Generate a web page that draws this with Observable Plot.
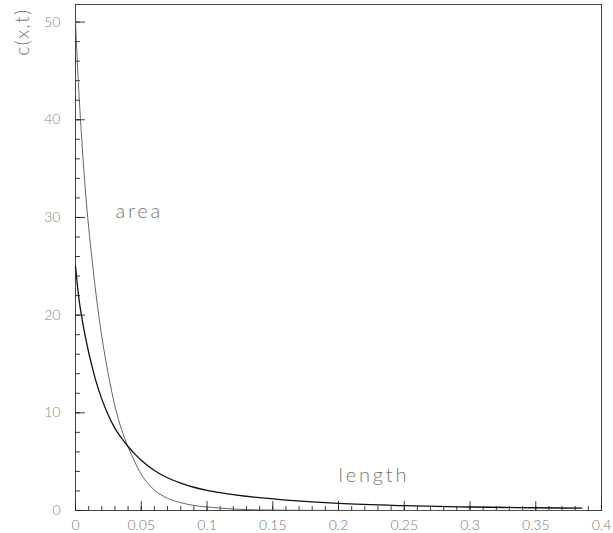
<!DOCTYPE html>
<html>
<head>
<meta charset="utf-8">
<script src="https://cdn.jsdelivr.net/npm/d3@7"></script>
<script src="https://cdn.jsdelivr.net/npm/@observablehq/plot@0.6"></script>
<style>
  html, body { margin: 0; padding: 0; background: #fff; }
  #chart svg { display: block; }
</style>
</head>
<body>
<div id="chart"></div>
<script>
// ---- data ----
const xs         = [0, 0.0025, 0.005, 0.0075, 0.01, 0.0125, 0.015, 0.02, 0.025, 0.03, 0.035, 0.04, 0.045, 0.05, 0.06, 0.07, 0.08, 0.09, 0.1, 0.11, 0.12, 0.14, 0.16, 0.18, 0.2, 0.25, 0.3, 0.35, 0.385];
const areaVals   = [50, 43, 37.5, 32.8, 29, 25.8, 22.8, 17.8, 13.9, 10.7, 8.3, 6.5, 5.0, 3.7, 2.1, 1.25, 0.8, 0.52, 0.36, 0.24, 0.15, 0.06, 0.03, 0.01, 0.01, 0, 0, 0, 0];
const lengthVals = [25, 21.8, 19.6, 17.8, 16.2, 14.8, 13.5, 11.4, 9.75, 8.4, 7.4, 6.55, 5.8, 5.15, 4.1, 3.35, 2.8, 2.38, 2.07, 1.83, 1.63, 1.31, 1.07, 0.88, 0.72, 0.49, 0.36, 0.28, 0.24];

const xTickLabels  = [0, 0.05, 0.1, 0.15, 0.2, 0.25, 0.3, 0.35, 0.4];
const xMinorTicks  = d3.range(1, 40).map(i => +(i * 0.01).toFixed(2));
const yTickLabels  = [0, 10, 20, 30, 40, 50];
const yMinorTicks  = d3.range(2, 52, 2);
const yLabel = "c(x,t)";
const seriesLabels = [
  {name: "area",   x: 0.0304, y: 30.6},
  {name: "length", x: 0.2,    y: 3.6}
];

const areaData   = xs.map((x, i) => ({x, y: areaVals[i]}));
const lengthData = xs.map((x, i) => ({x, y: lengthVals[i]}));

const tickShape = {draw(context, l) { context.moveTo(0, 0); context.lineTo(0, -l); }};
const font = "Lato, 'DejaVu Sans', sans-serif";

const chart = Plot.plot({
  width: 613,
  height: 533,
  marginLeft: 75,
  marginRight: 12,
  marginTop: 4,
  marginBottom: 23,
  style: {fontFamily: font, fontWeight: 300, background: "#fff"},
  x: {domain: [0, 0.4]},
  y: {domain: [0, 51.8]},
  marks: [
    Plot.frame({stroke: "#444", strokeWidth: 1}),
    // inward ticks
    Plot.vector(xMinorTicks, {x: d => d, y: 0, length: 4, rotate: 0, anchor: "start", shape: tickShape, stroke: "#222", strokeWidth: 0.9}),
    Plot.vector(xTickLabels, {x: d => d, y: 0, length: 9, rotate: 0, anchor: "start", shape: tickShape, stroke: "#222", strokeWidth: 0.9}),
    Plot.vector(yMinorTicks, {x: 0, y: d => d, length: 4, rotate: 90, anchor: "start", shape: tickShape, stroke: "#222", strokeWidth: 0.9}),
    Plot.vector(yTickLabels, {x: 0, y: d => d, length: 9, rotate: 90, anchor: "start", shape: tickShape, stroke: "#222", strokeWidth: 0.9}),
    Plot.axisX({ticks: xTickLabels, tickSize: 0, tickPadding: 10, tickFormat: d => String(d), label: null, fontSize: 14, fill: "#777"}),
    Plot.axisY({ticks: yTickLabels, tickSize: 0, tickPadding: 15, tickFormat: d => String(d), label: null, fontSize: 14, fill: "#888"}),
    Plot.line(areaData,   {x: "x", y: "y", stroke: "#555", strokeWidth: 0.9, curve: "monotone-x"}),
    Plot.line(lengthData, {x: "x", y: "y", stroke: "#111", strokeWidth: 1.3, curve: "monotone-x"}),
    Plot.text(seriesLabels, {x: "x", y: "y", text: "name", textAnchor: "start", fontSize: 20, fill: "#777"}),
    Plot.text([yLabel], {frameAnchor: "top-left", textAnchor: "middle", lineAnchor: "middle", dx: -52.5, dy: 27.5, rotate: -90, fontSize: 19, fill: "#777"})
  ]
});
const labelNames = new Set(seriesLabels.map(d => d.name));
d3.select(chart).selectAll("text")
  .filter(function() { return labelNames.has(this.textContent); })
  .style("letter-spacing", "2.8px");
d3.select(chart).selectAll("text")
  .filter(function() { return this.textContent === yLabel; })
  .style("letter-spacing", "1.5px");
document.getElementById("chart").append(chart);
</script>
</body>
</html>
